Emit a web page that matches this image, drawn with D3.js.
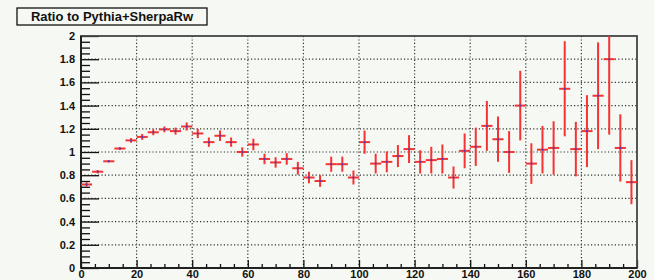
<!DOCTYPE html>
<html>
  <head>
    <title>Ratio to Pythia+SherpaRw</title>
    <style>
    body {
        margin: 0px;
        overflow: hidden;
        background: #f5f8f3;
    }

    text {
        font-family: "Liberation Sans", Arial, sans-serif;
    }

    .tick text {
        font-size: 11px;
        font-weight: bold;
        fill: #111;
    }

    .tick line {
        stroke: #111;
        stroke-width: 1.3;
    }

    .grid line {
        stroke: #333;
        stroke-width: 1.2;
        stroke-dasharray: 1.2, 2.2;
    }
    </style>
    <script src="https://d3js.org/d3.v7.min.js"></script>
  </head>
  <body>

    <svg width="654" height="280"></svg>

    <script>
        // bin centres (x), ratio values and their vertical errors
        const binCenters = [2, 6, 10, 14, 18, 22, 26, 30, 34, 38,
                            42, 46, 50, 54, 58, 62, 66, 70, 74, 78,
                            82, 86, 90, 94, 98, 102, 106, 110, 114, 118,
                            122, 126, 130, 134, 138, 142, 146, 150, 154, 158,
                            162, 166, 170, 174, 178, 182, 186, 190, 194, 198];
        const ratios = [0.72, 0.83, 0.92, 1.03, 1.10, 1.13, 1.17, 1.195, 1.18, 1.22,
                        1.16, 1.085, 1.14, 1.085, 1.00, 1.065, 0.94, 0.91, 0.94, 0.86,
                        0.78, 0.75, 0.895, 0.895, 0.78, 1.085, 0.90, 0.915, 0.965, 1.025,
                        0.915, 0.93, 0.94, 0.78, 1.01, 1.045, 1.225, 1.11, 1.00, 1.40,
                        0.90, 1.02, 1.035, 1.545, 1.025, 1.18, 1.485, 1.80, 1.035, 0.74];
        const errors = [0.02, 0.015, 0.01, 0.012, 0.02, 0.025, 0.025, 0.025, 0.03, 0.035,
                        0.04, 0.04, 0.045, 0.04, 0.04, 0.05, 0.045, 0.045, 0.05, 0.055,
                        0.05, 0.05, 0.065, 0.065, 0.06, 0.1, 0.085, 0.09, 0.095, 0.12,
                        0.1, 0.115, 0.125, 0.095, 0.15, 0.165, 0.215, 0.195, 0.18, 0.30,
                        0.175, 0.205, 0.23, 0.41, 0.235, 0.31, 0.46, 0.65, 0.29, 0.19];
        const binHalfWidth = 2;

        const xTicks = [0, 20, 40, 60, 80, 100, 120, 140, 160, 180, 200];
        const yTicks = [0, 0.2, 0.4, 0.6, 0.8, 1, 1.2, 1.4, 1.6, 1.8, 2];
        const yTickLabels = ['0', '0.2', '0.4', '0.6', '0.8', '1', '1.2', '1.4', '1.6', '1.8', '2'];
        const title = 'Ratio to Pythia+SherpaRw';

        const data = binCenters.map((x, i) => ({x: x, y: ratios[i], e: errors[i]}));

        const svg = d3.select('svg');
        const width = +svg.attr('width');
        const height = +svg.attr('height');

        const margin = { top: 36, right: 17, bottom: 12, left: 81 };
        const innerWidth = width - margin.left - margin.right;
        const innerHeight = height - margin.top - margin.bottom;

        svg.append('rect')
            .attr('width', width)
            .attr('height', height)
            .attr('fill', '#f5f8f3');

        const xScale = d3.scaleLinear().domain([0, 200]).range([0, innerWidth]);
        const yScale = d3.scaleLinear().domain([0, 2]).range([innerHeight, 0]);

        const g = svg.append('g')
            .attr('transform', `translate(${margin.left},${margin.top})`);

        g.append('clipPath').attr('id', 'frame')
            .append('rect')
            .attr('width', innerWidth)
            .attr('height', innerHeight);

        // dotted grid
        const grid = g.append('g').attr('class', 'grid');
        grid.selectAll('.gx').data(xTicks.slice(1, -1))
            .enter().append('line')
            .attr('x1', d => xScale(d)).attr('x2', d => xScale(d))
            .attr('y1', 0).attr('y2', innerHeight);
        grid.selectAll('.gy').data(yTicks.slice(1, -1))
            .enter().append('line')
            .attr('y1', d => yScale(d)).attr('y2', d => yScale(d))
            .attr('x1', 0).attr('x2', innerWidth);

        // minor ticks
        const yMinor = d3.range(0, 2.001, 0.05).filter((d, i) => i % 4 !== 0);
        const xMinor = d3.range(0, 200.1, 5).filter((d, i) => i % 4 !== 0);

        const yMinorG = g.append('g').call(d3.axisLeft(yScale)
            .tickValues(yMinor).tickSizeInner(-9).tickSizeOuter(0).tickFormat(''));
        yMinorG.select('.domain').remove();

        const xMinorG = g.append('g')
            .attr('transform', `translate(0,${innerHeight})`)
            .call(d3.axisBottom(xScale)
                .tickValues(xMinor).tickSizeInner(-4).tickSizeOuter(0).tickFormat(''));
        xMinorG.select('.domain').remove();

        // major axes
        const yAxisG = g.append('g').call(d3.axisLeft(yScale)
            .tickValues(yTicks)
            .tickSizeInner(-18)
            .tickSizeOuter(0)
            .tickPadding(6)
            .tickFormat((d, i) => yTickLabels[i]));
        yAxisG.select('.domain').remove();

        const xAxisG = g.append('g')
            .attr('transform', `translate(0,${innerHeight})`)
            .call(d3.axisBottom(xScale)
                .tickValues(xTicks)
                .tickSizeInner(-8)
                .tickSizeOuter(0)
                .tickPadding(2)
                .tickFormat(d3.format('d')));
        xAxisG.select('.domain').remove();

        // frame
        g.append('rect')
            .attr('width', innerWidth)
            .attr('height', innerHeight)
            .attr('fill', 'none')
            .attr('stroke', '#444')
            .attr('stroke-width', 1.8);
        g.append('line')
            .attr('x1', 0).attr('x2', 0)
            .attr('y1', 0).attr('y2', innerHeight)
            .attr('stroke', '#111').attr('stroke-width', 1.5);
        g.append('line')
            .attr('x1', 0).attr('x2', innerWidth)
            .attr('y1', innerHeight).attr('y2', innerHeight)
            .attr('stroke', '#111').attr('stroke-width', 1.5);

        // error bars
        const points = g.append('g').attr('clip-path', 'url(#frame)');

        points.selectAll('.hbar').data(data)
            .enter().append('line')
            .attr('x1', d => xScale(d.x - binHalfWidth))
            .attr('x2', d => xScale(d.x + binHalfWidth))
            .attr('y1', d => yScale(d.y))
            .attr('y2', d => yScale(d.y))
            .attr('stroke', '#f53333')
            .attr('stroke-width', 2);

        points.selectAll('.vbar').data(data)
            .enter().append('line')
            .attr('x1', d => xScale(d.x))
            .attr('x2', d => xScale(d.x))
            .attr('y1', d => yScale(d.y - d.e))
            .attr('y2', d => yScale(d.y + d.e))
            .attr('stroke', '#f53333')
            .attr('stroke-width', 2);

        points.selectAll('circle').data(data)
            .enter().append('circle')
            .attr('cx', d => xScale(d.x))
            .attr('cy', d => yScale(d.y))
            .attr('r', 1)
            .attr('fill', '#4040c8');

        // title box
        svg.append('rect')
            .attr('x', 17).attr('y', 8)
            .attr('width', 190).attr('height', 17)
            .attr('fill', '#f5f8f3')
            .attr('stroke', '#111')
            .attr('stroke-width', 1.3);

        svg.append('text')
            .attr('x', 112)
            .attr('y', 21)
            .attr('text-anchor', 'middle')
            .attr('font-size', '13px')
            .attr('font-weight', 'bold')
            .attr('fill', '#111')
            .text(title);
    </script>
  </body>
</html>
